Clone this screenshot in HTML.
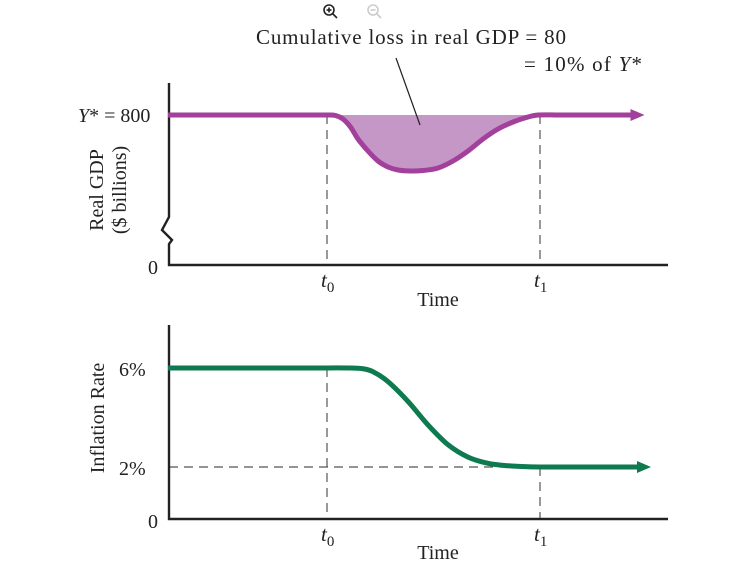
<!DOCTYPE html>
<html><head><meta charset="utf-8"><style>
body{margin:0;background:#fff;}
svg{display:block;font-family:"Liberation Serif",serif;}
</style></head><body>
<svg id="c" width="743" height="575">
<g stroke="#222" fill="none" stroke-width="1.6">
<circle cx="329" cy="10" r="5"/><line x1="333" y1="14" x2="337" y2="18"/><line x1="326.5" y1="10" x2="331.5" y2="10"/><line x1="329" y1="7.5" x2="329" y2="12.5"/></g>
<g stroke="#ccc" fill="none" stroke-width="1.6">
<circle cx="373" cy="10" r="5"/><line x1="377" y1="14" x2="381" y2="18"/><line x1="370.5" y1="10" x2="375.5" y2="10"/></g>
<g id="top"></g><g id="bot"></g>
</svg>
<script>
const timeVals=[0,10,20,28,32,33.5,35,36.5,38,40,42,44,46,48.5,51,54,57,60,63,66,69,72,74,78,84,90,93.3];
const gdpVals=[800,800,800,800,800,799.5,796,788,776,764,754,748,745,744,744.5,747,754,764,776,786,793,798,800,800,800,800,800];
const inflTime=[0,10,20,30,36,39,41,44,48,52,56,60,64,68,72,76,82,88,94.6];
const inflVals=[6,6,6,6,6,5.97,5.85,5.45,4.65,3.7,2.9,2.4,2.15,2.05,2.01,2,2,2,2];
const tMarks=[31.8,74.4];
const tLabels=["0","1"];
const NS="http://www.w3.org/2000/svg";
const X=t=>168+t*5;
const Yg=v=>115+(800-v)*1.0;
const Yi=v=>467-(v-2)*24.75;
function el(tag,a,p){const e=document.createElementNS(NS,tag);for(const k in a)e.setAttribute(k,a[k]);p.appendChild(e);return e;}
function smooth(pts){let d=`M${pts[0][0]},${pts[0][1]}`;for(let i=0;i<pts.length-1;i++){const p0=pts[Math.max(0,i-1)],p1=pts[i],p2=pts[i+1],p3=pts[Math.min(pts.length-1,i+2)];
const h=p2[0]-p1[0];const s1=(p2[1]-p0[1])/Math.max(1e-6,p2[0]-p0[0]);const s2=(p3[1]-p1[1])/Math.max(1e-6,p3[0]-p1[0]);
d+=` C${p1[0]+h/3},${p1[1]+s1*h/3} ${p2[0]-h/3},${p2[1]-s2*h/3} ${p2[0]},${p2[1]}`;}return d;}
function txt(p,x,y,s,name,size,anchor){const t=el('text',{x:x,y:y,'font-size':size||19,'text-anchor':anchor||'start',fill:'#222'},p);t.innerHTML=s;return t;}

const T=document.getElementById('top');

const gp=timeVals.map((t,i)=>[X(t),Yg(gdpVals[i])]);
const area=el('path',{d:smooth(gp)+` L${X(timeVals[0])},${Yg(800)} Z`,fill:'#c597c6'},T);

tMarks.forEach((m,i)=>{const l=el('line',{x1:X(m),x2:X(m),y1:Yg(800),y2:265,stroke:'#555','stroke-dasharray':'9,6','stroke-width':1.2},T);});
const ax=el('path',{d:'M169,83 V217 L162,230 L172,240 L169,244 V265 H668',fill:'none',stroke:'#222','stroke-width':2.4},T);

const gl=el('path',{d:smooth(gp),fill:'none',stroke:'#a2409b','stroke-width':5},T);

const ga=gp[gp.length-1];
const gar=el('path',{d:`M${ga[0]-4},${ga[1]-6} L${ga[0]+10},${ga[1]} L${ga[0]-4},${ga[1]+6}Z`,fill:'#a2409b'},T);

const ld=el('line',{x1:396,y1:58,x2:420,y2:125,stroke:'#222','stroke-width':1.2},T);

const a1=txt(T,256,44,'Cumulative loss in real GDP = 80','annotation-line1',21);a1.setAttribute('textLength','310');
const a2=txt(T,524,71,'= 10% of <tspan font-style="italic">Y</tspan>*','annotation-line2',21);a2.setAttribute('textLength','118');
txt(T,78,122,'<tspan font-style="italic">Y</tspan>* = 800','y-star-label',20);
txt(T,148,274,'0','gdp-zero-label',20);
tMarks.forEach((m,i)=>txt(T,X(m)-6,287,'<tspan font-style="italic">t</tspan><tspan font-size="15" dy="5">'+tLabels[i]+'</tspan>','t'+i+'-label-top',21));
txt(T,438,306,'Time','time-label-top',20,'middle');
const yt=txt(T,0,0,'Real GDP','gdp-axis-title',20,'middle');yt.setAttribute('transform','translate(103,190) rotate(-90)');
const yt2=txt(T,0,0,'($ billions)','gdp-axis-subtitle',20,'middle');yt2.setAttribute('transform','translate(126,190) rotate(-90)');

const B=document.getElementById('bot');

const ip=inflTime.map((t,i)=>[X(t),Yi(inflVals[i])]);
const hd=el('line',{x1:169,x2:X(tMarks[1]),y1:Yi(2),y2:Yi(2),stroke:'#555','stroke-dasharray':'9,6','stroke-width':1.2},B);

tMarks.forEach((m,i)=>{const l=el('line',{x1:X(m),x2:X(m),y1:(i==0?Yi(6):Yi(2)),y2:519,stroke:'#555','stroke-dasharray':'9,6','stroke-width':1.2},B);});
const ax2=el('path',{d:'M169,325 V519 H668',fill:'none',stroke:'#222','stroke-width':2.4},B);

const il=el('path',{d:smooth(ip),fill:'none',stroke:'#0d7a4f','stroke-width':5},B);

const ia=ip[ip.length-1];
const iar=el('path',{d:`M${ia[0]-4},${ia[1]-6} L${ia[0]+10},${ia[1]} L${ia[0]-4},${ia[1]+6}Z`,fill:'#0d7a4f'},B);

txt(B,119,376,'6%','tick-6-percent',20);
txt(B,119,475,'2%','tick-2-percent',20);
txt(B,148,528,'0','inflation-zero-label',20);
tMarks.forEach((m,i)=>txt(B,X(m)-6,541,'<tspan font-style="italic">t</tspan><tspan font-size="15" dy="5">'+tLabels[i]+'</tspan>','t'+i+'-label-bottom',21));
txt(B,438,559,'Time','time-label-bottom',20,'middle');
const it=txt(B,0,0,'Inflation Rate','inflation-axis-title',20,'middle');it.setAttribute('transform','translate(104,418) rotate(-90)');
</script>
</body></html>
